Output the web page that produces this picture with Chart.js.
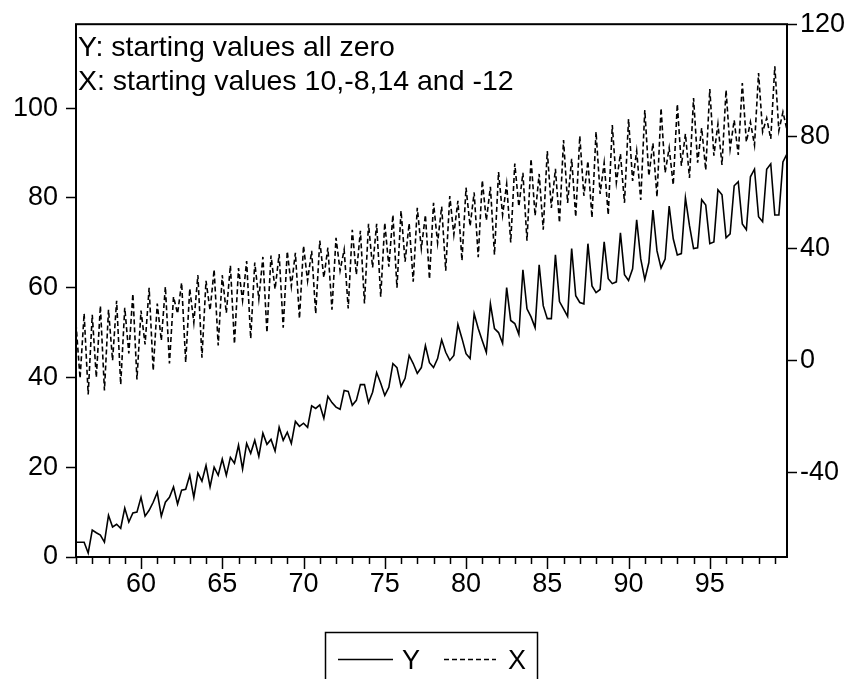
<!DOCTYPE html>
<html>
<head>
<meta charset="utf-8">
<title>Y and X</title>
<script src="https://cdn.jsdelivr.net/npm/chart.js@4.4.1/dist/chart.umd.min.js"></script>
<style>
  html, body { margin: 0; padding: 0; background: #fff; }
  #wrap { width: 858px; height: 679px; }
</style>
</head>
<body>
<div id="wrap"><canvas id="chart" width="858" height="679"></canvas></div>
<script>
// quarterly sample 1956Q1 - 1999Q4
const startYear = 1956;
const endYear = 1999;

const seriesY = [
  3.3, 3.3, 3.3, 0.9,   6.0, 5.4, 4.9, 3.3,   9.3, 6.7, 7.3, 6.4,   10.9, 7.8, 9.8, 10.0,
  13.3, 9.1, 10.4, 12.2,   14.4, 9.1, 12.2, 13.3,   15.6, 11.8, 14.9, 15.1,   18.2, 13.3, 18.7, 16.9,
  20.4, 15.6, 20.0, 18.2,   21.8, 18.2, 22.2, 20.9,   24.9, 19.6, 25.3, 23.1,   26.0, 22.4, 27.6, 25.1,
  26.2, 23.6, 28.9, 26.0,   27.8, 25.3, 30.2, 29.1,   29.8, 28.9, 33.7, 33.1,   33.9, 30.9, 35.8, 34.4,
  33.4, 32.9, 37.1, 36.9,   33.8, 34.9, 38.4, 38.4,   34.4, 36.7, 41.1, 38.7,   36.0, 37.8, 43.1, 42.2,
  38.0, 39.8, 44.9, 43.1,   40.9, 42.2, 47.1, 43.3,   42.2, 44.2, 48.4, 45.6,   43.8, 44.9, 51.8, 48.7,
  45.3, 44.2, 54.2, 50.9,   48.2, 45.6, 56.4, 50.9,   50.0, 47.6, 60.0, 52.7,   52.0, 49.6, 64.0, 55.3,
  53.5, 51.1, 65.1, 56.0,   53.1, 53.1, 67.3, 56.9,   55.3, 53.6, 68.7, 58.2,   56.7, 56.4, 69.8, 60.4,
  58.9, 59.6, 70.2, 62.0,   60.9, 61.3, 72.2, 62.9,   61.6, 64.2, 75.1, 66.4,   61.8, 65.6, 77.3, 68.2,
  64.4, 66.4, 78.2, 70.9,   67.3, 67.6, 80.0, 73.8,   68.7, 68.9, 79.6, 78.4,   69.8, 70.2, 81.8, 80.7,
  71.1, 72.0, 82.7, 83.6,   74.2, 72.9, 84.7, 86.4,   75.8, 74.7, 86.4, 87.6,   76.2, 76.2, 88.0, 89.8
];

const seriesX = [
  13.2, -6.3, 16.8, -12.0,   16.4, -6.0, 19.6, -10.6,   18.2, 0.1, 21.4, -8.5,   18.9, 2.6, 23.9, -6.7,
  17.9, 5.8, 26.0, -3.5,   20.4, 7.2, 26.4, -1.0,   22.8, 16.8, 27.8, -0.6,   25.7, 13.6, 30.5, 1.1,
  28.5, 18.0, 32.5, 5.4,   30.5, 17.0, 34.0, 6.0,   33.0, 21.5, 35.5, 7.9,   35.0, 22.0, 37.0, 10.0,
  37.5, 25.5, 38.0, 11.8,   39.0, 26.5, 38.5, 15.0,   41.0, 28.5, 39.2, 16.8,   42.8, 29.6, 40.3, 18.2,
  43.8, 32.1, 39.6, 18.6,   46.7, 30.7, 46.3, 20.4,   48.8, 33.2, 48.8, 22.8,   49.2, 33.5, 52.0, 26.0,
  53.5, 35.3, 49.0, 28.2,   54.5, 40.0, 52.0, 29.1,   56.3, 42.0, 55.0, 32.1,   58.7, 45.0, 57.0, 35.7,
  61.7, 48.0, 60.0, 36.9,   64.3, 50.0, 62.0, 37.8,   67.3, 52.0, 63.0, 42.2,   70.3, 55.0, 67.0, 42.8,
  72.0, 51.7, 66.6, 46.7,   74.8, 54.5, 68.4, 49.2,   78.7, 56.3, 72.0, 51.3,   80.1, 58.8, 71.2, 51.0,
  81.6, 59.5, 70.6, 52.0,   84.0, 63.5, 73.8, 56.3,   86.2, 64.1, 74.8, 57.3,   89.4, 65.9, 77.6, 58.4,
  90.1, 67.0, 75.9, 62.7,   91.5, 69.5, 80.9, 65.2,   93.7, 70.6, 83.0, 68.0,   96.9, 73.1, 84.4, 69.8,
  96.5, 75.5, 85.8, 73.4,   99.0, 78.0, 85.1, 76.9,   102.6, 81.6, 86.5, 79.1,   105.0, 82.0, 88.7, 82.3
];

const leftTicks = [0, 20, 40, 60, 80, 100];
const rightTicks = [-40, 0, 40, 80, 120];
const noteLines = ['Y: starting values all zero', 'X: starting values 10,-8,14 and -12'];

const quarters = [];
for (let yr = startYear; yr <= endYear; yr++) {
  for (let q = 1; q <= 4; q++) quarters.push(yr + 'Q' + q);
}

const FONT = '"Liberation Sans", Arial, Helvetica, sans-serif';
Chart.defaults.font.family = FONT;
Chart.defaults.font.size = 27;
Chart.defaults.color = '#000';

// frame, year tick marks, note text and the boxed legend
const decorations = {
  id: 'decorations',
  afterDraw(chart) {
    const { ctx, chartArea: a } = chart;
    const xs = chart.scales.x;
    ctx.save();
    ctx.strokeStyle = '#000';
    ctx.fillStyle = '#000';

    ctx.lineWidth = 2;
    ctx.strokeRect(a.left, a.top, a.right - a.left, a.bottom - a.top);

    ctx.lineWidth = 1.5;
    for (let yr = startYear; yr <= endYear; yr++) {
      const px = Math.round(xs.getPixelForValue((yr - startYear) * 4)) + 0.5;
      const len = yr % 5 === 0 ? 12 : 7;
      ctx.beginPath();
      ctx.moveTo(px, a.bottom);
      ctx.lineTo(px, a.bottom + len);
      ctx.stroke();
    }

    ctx.font = '28.5px ' + FONT;
    ctx.textAlign = 'left';
    ctx.textBaseline = 'alphabetic';
    noteLines.forEach((t, i) => ctx.fillText(t, a.left + 2, a.top + 32 + i * 34));

    // legend
    ctx.font = '27px ' + FONT;
    ctx.lineWidth = 1.5;
    ctx.strokeRect(325.5, 632.5, 212, 60);
    const ds = chart.data.datasets;
    const items = [
      { ds: ds[0], x0: 338, x1: 393, tx: 402 },
      { ds: ds[1], x0: 444, x1: 496, tx: 508 }
    ];
    items.forEach(it => {
      ctx.setLineDash(it.ds.borderDash || []);
      ctx.beginPath();
      ctx.moveTo(it.x0, 659.5);
      ctx.lineTo(it.x1, 659.5);
      ctx.stroke();
      ctx.setLineDash([]);
      ctx.fillText(it.ds.label, it.tx, 669);
    });
    ctx.restore();
  }
};

function createChart() {
  const ctx = document.getElementById('chart').getContext('2d');
  return new Chart(ctx, {
    type: 'line',
    data: {
      labels: quarters,
      datasets: [
        {
          label: 'Y',
          data: seriesY,
          yAxisID: 'y',
          borderColor: '#000',
          borderWidth: 1.6,
          pointRadius: 0,
          tension: 0,
          fill: false
        },
        {
          label: 'X',
          data: seriesX,
          yAxisID: 'y1',
          borderColor: '#000',
          borderWidth: 1.6,
          borderDash: [5, 3],
          pointRadius: 0,
          tension: 0,
          fill: false
        }
      ]
    },
    options: {
      responsive: false,
      devicePixelRatio: 1,
      animation: false,
      layout: { padding: { top: 23, left: 0, right: 0, bottom: 0 } },
      plugins: {
        legend: { display: false },
        tooltip: { enabled: false }
      },
      scales: {
        x: {
          type: 'category',
          offset: false,
          grid: { display: false, drawTicks: false },
          border: { display: false },
          afterBuildTicks: s => { s.ticks = s.ticks.filter(t => t.value % 4 === 0); },
          afterFit: s => { s.height = 122; },
          ticks: {
            autoSkip: false,
            maxRotation: 0,
            padding: 11,
            callback: v => {
              const yr = startYear + v / 4;
              return yr % 5 === 0 ? String(yr).slice(2) : '';
            }
          }
        },
        y: {
          position: 'left',
          min: 0,
          max: 118.7,
          grid: { drawOnChartArea: false, drawTicks: true, tickLength: 10, tickColor: '#000', tickWidth: 1.5 },
          border: { display: false },
          afterBuildTicks: s => { s.ticks = leftTicks.map(v => ({ value: v })); },
          afterFit: s => { s.width = 76; },
          ticks: { padding: 8 }
        },
        y1: {
          position: 'right',
          min: -70,
          max: 120,
          grid: { drawOnChartArea: false, drawTicks: true, tickLength: 10, tickColor: '#000', tickWidth: 1.5 },
          border: { display: false },
          afterBuildTicks: s => { s.ticks = rightTicks.map(v => ({ value: v })); },
          afterFit: s => { s.width = 71; },
          ticks: { padding: 3 }
        }
      }
    },
    plugins: [decorations]
  });
}

if (document.readyState === 'loading') {
  document.addEventListener('DOMContentLoaded', createChart);
} else {
  createChart();
}
</script>
</body>
</html>
